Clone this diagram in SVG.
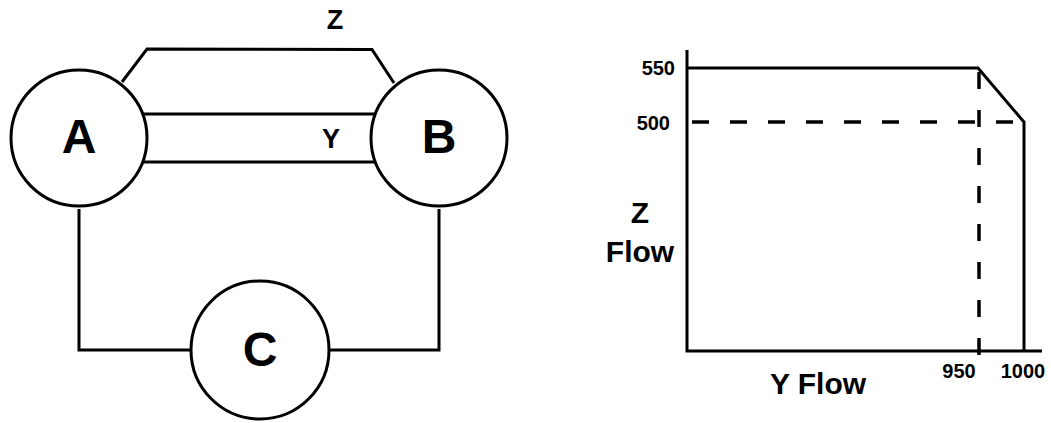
<svg xmlns="http://www.w3.org/2000/svg" width="1051" height="423" viewBox="0 0 1051 423">
<style>
.ln{fill:none;stroke:#000;stroke-width:3;stroke-linejoin:miter}
.dash{fill:none;stroke:#000;stroke-width:3.5;stroke-dasharray:17 21}
.node{fill:#fff;stroke:#000;stroke-width:3}
text{font-family:"Liberation Sans",Arial,sans-serif;font-weight:bold;fill:#000}
.big{font-size:48px}
.lbl{font-size:27px}
.axl{font-size:30px}
.num{font-size:20px}
</style>
<rect width="1051" height="423" fill="#fff"/>
<g id="connectors">
<path class="ln" d="M122,82 L147,49 L372,49.5 L394,83"/>
<line class="ln" x1="143" y1="114" x2="375" y2="114"/>
<line class="ln" x1="143" y1="162" x2="375" y2="162"/>
<path class="ln" d="M79,209 L79,350 L191,350"/>
<path class="ln" d="M439,209 L439,350 L328,350"/>
<text class="lbl" x="335" y="29" text-anchor="middle">Z</text>
<text class="lbl" x="331" y="148" text-anchor="middle">Y</text>
</g>
<g id="nodeA">
<circle class="node" cx="79" cy="138" r="68"/>
<text class="big" x="79" y="153" text-anchor="middle">A</text>
</g>
<g id="nodeB">
<circle class="node" cx="439" cy="138" r="68"/>
<text class="big" x="439" y="153" text-anchor="middle">B</text>
</g>
<g id="nodeC">
<circle class="node" cx="260" cy="350" r="69"/>
<text class="big" x="260" y="366" text-anchor="middle">C</text>
</g>
<g id="chart">
<path class="ln" d="M687,50 L687,351 L1042,351"/>
<path class="ln" d="M687,68 L978,68 L1024,122 L1024,351"/>
<line class="dash" x1="692" y1="122" x2="1024" y2="122"/>
<line class="dash" x1="979" y1="72" x2="979" y2="355"/>
<text class="num" x="675" y="75" text-anchor="end">550</text>
<text class="num" x="670" y="130" text-anchor="end">500</text>
<text class="num" x="959" y="378" text-anchor="middle">950</text>
<text class="num" x="1023" y="378" text-anchor="middle">1000</text>
<text class="axl" x="640" y="223" text-anchor="middle">Z</text>
<text class="axl" x="640" y="262" text-anchor="middle">Flow</text>
<text class="axl" x="818" y="394" text-anchor="middle">Y Flow</text>
</g>
</svg>
